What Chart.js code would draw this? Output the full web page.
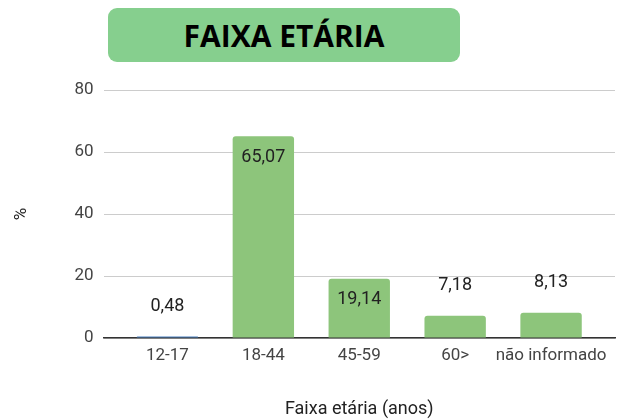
<!DOCTYPE html>
<html>
<head>
<meta charset="utf-8">
<script src="https://cdn.jsdelivr.net/npm/chart.js@4/dist/chart.umd.min.js"></script>
<style>
  html, body { margin: 0; padding: 0; background: #fff; }
  #wrap { position: relative; width: 618px; height: 420px; }
  #titulo {
    position: absolute; left: 108px; top: 8px; width: 352px; height: 54px;
    background: #86cf8e; border-radius: 9px;
    font-family: "Open Sans", sans-serif; font-weight: 700; font-size: 30px;
    color: #000; display: flex; align-items: center; justify-content: center;
  }
</style>
</head>
<body>
<div id="wrap">
  <canvas id="faixaChart" width="618" height="420"></canvas>
  <div id="titulo">FAIXA ETÁRIA</div>
</div>
<script>
// dados
const faixas = ['12-17', '18-44', '45-59', '60>', 'não informado'];
const percentuais = [0.48, 65.07, 19.14, 7.18, 8.13];
const cores = ['#4a80c0', '#8dc57b', '#8dc57b', '#8dc57b', '#8dc57b'];
const yTicks = [0, 20, 40, 60, 80];

const fmt = v => v.toFixed(2).replace('.', ',');

// rótulos de valor: dentro da barra se couber, senão acima
const rotulos = {
    id: 'rotulos',
    afterDatasetsDraw(chart) {
        const ctx = chart.ctx;
        const meta = chart.getDatasetMeta(0);
        ctx.save();
        ctx.font = '18px Roboto, sans-serif';
        ctx.fillStyle = '#222';
        ctx.textAlign = 'center';
        ctx.textBaseline = 'middle';
        meta.data.forEach((bar, i) => {
            const h = bar.base - bar.y;
            const y = h > 40 ? bar.y + 21 : bar.y - 30;
            ctx.fillText(fmt(percentuais[i]), bar.x, y);
        });
        ctx.restore();
    }
};

const ctx = document.getElementById('faixaChart').getContext('2d');
new Chart(ctx, {
    type: 'bar',
    data: {
        datasets: [{
            data: percentuais.map((v, i) => ({ x: i, y: v })),
            backgroundColor: cores,
            borderRadius: { topLeft: 3, topRight: 3 },
            borderSkipped: 'bottom',
            barPercentage: 0.64,
            categoryPercentage: 1
        }]
    },
    options: {
        responsive: false,
        animation: false,
        layout: { padding: { top: 90, right: 3, left: 8, bottom: 0 } },
        plugins: { legend: { display: false }, tooltip: { enabled: false } },
        scales: {
            x: {
                type: 'linear',
                offset: false,
                min: -2 / 3,
                max: 4 + 2 / 3,
                afterBuildTicks: axis => { axis.ticks = faixas.map((f, i) => ({ value: i })); },
                ticks: {
                    callback: v => faixas[v],
                    color: '#444',
                    font: { family: 'Roboto', size: 17 },
                    padding: 0,
                    autoSkip: false,
                    maxRotation: 0
                },
                grid: { display: false },
                border: { color: '#333', width: 1.5 },
                title: {
                    display: true,
                    text: 'Faixa etária (anos)',
                    color: '#222',
                    font: { family: 'Roboto', size: 18 },
                    padding: { top: 32, bottom: 0 }
                }
            },
            y: {
                min: 0,
                max: 80,
                afterBuildTicks: axis => { axis.ticks = yTicks.map(v => ({ value: v })); },
                ticks: {
                    color: '#444',
                    font: { family: 'Roboto', size: 17 },
                    padding: 10
                },
                grid: {
                    color: '#cccccc',
                    drawTicks: false
                },
                border: { display: false },
                title: {
                    display: true,
                    text: '%',
                    color: '#222',
                    font: { family: 'Roboto', size: 17 },
                    padding: { bottom: 32 }
                }
            }
        }
    },
    plugins: [rotulos]
});
</script>
</body>
</html>
